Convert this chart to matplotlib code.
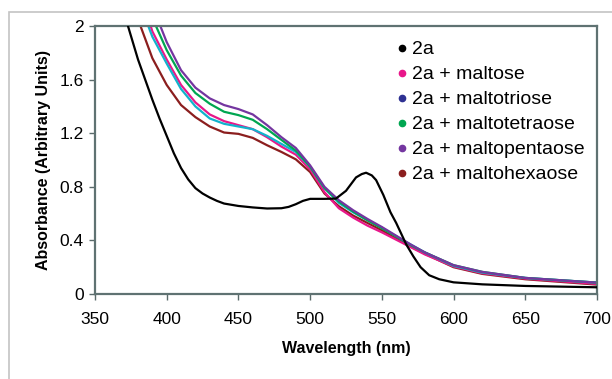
import numpy as np
from matplotlib import pyplot as plt
from matplotlib.lines import Line2D
from matplotlib.patches import Rectangle

plt.rcParams['font.family'] = ['Liberation Sans', 'DejaVu Sans']

# Espectro do composto 2a sozinho
wl_2a = [370, 373, 380, 385, 390, 395, 400, 405, 410, 415, 420, 425, 430, 435, 440, 450,
         460, 470, 480, 485, 490, 495, 500, 510, 518, 525, 532, 536, 539, 543, 546, 551,
         556, 560, 567, 572, 577, 583, 590, 600, 620, 650, 700]
abs_2a = [2.12, 2.0, 1.75, 1.60, 1.45, 1.31, 1.18, 1.05, 0.94, 0.855, 0.79, 0.75, 0.72,
          0.695, 0.675, 0.657, 0.646, 0.638, 0.64, 0.65, 0.67, 0.695, 0.71, 0.71, 0.712,
          0.77, 0.87, 0.895, 0.905, 0.885, 0.85, 0.74, 0.61, 0.53, 0.37, 0.28, 0.2, 0.14,
          0.11, 0.087, 0.072, 0.06, 0.05]

# Espectros com os açúcares (grade comum)
wl_sug = [380, 390, 400, 410, 420, 430, 440, 450, 460, 470, 480, 490, 500, 510, 520, 530,
          540, 550, 560, 570, 580, 600, 620, 650, 700]
abs_maltose = [2.3, 1.96, 1.75, 1.56, 1.43, 1.34, 1.29, 1.26, 1.23, 1.17, 1.10, 1.04, 0.93,
               0.76, 0.64, 0.57, 0.51, 0.46, 0.405, 0.35, 0.295, 0.205, 0.155, 0.115, 0.075]
abs_maltotriose = [2.2, 1.92, 1.72, 1.53, 1.40, 1.31, 1.27, 1.25, 1.23, 1.18, 1.12, 1.06, 0.95,
                   0.79, 0.68, 0.61, 0.55, 0.495, 0.43, 0.37, 0.31, 0.21, 0.16, 0.12, 0.085]
abs_maltotetraose = [2.4, 2.06, 1.82, 1.63, 1.50, 1.42, 1.36, 1.335, 1.30, 1.23, 1.15, 1.07, 0.95,
                     0.79, 0.69, 0.615, 0.55, 0.49, 0.43, 0.365, 0.31, 0.215, 0.165, 0.12, 0.085]
abs_maltopentaose = [2.5, 2.15, 1.88, 1.67, 1.54, 1.46, 1.41, 1.38, 1.34, 1.26, 1.17, 1.09, 0.96,
                     0.80, 0.70, 0.625, 0.56, 0.50, 0.435, 0.37, 0.31, 0.215, 0.165, 0.12, 0.085]
abs_maltohexaose = [2.05, 1.76, 1.56, 1.41, 1.32, 1.25, 1.205, 1.195, 1.165, 1.11, 1.06, 1.005, 0.91,
                    0.75, 0.655, 0.585, 0.53, 0.475, 0.415, 0.355, 0.30, 0.20, 0.15, 0.11, 0.07]

labels = ['2a', '2a + maltose', '2a + maltotriose', '2a + maltotetraose',
          '2a + maltopentaose', '2a + maltohexaose']
line_colors = ['black', '#e8178a', '#12b2cc', '#00a651', '#7436a0', '#8b1e1e']
dot_colors = ['black', '#e8178a', '#2e3192', '#00a651', '#7436a0', '#8b1e1e']

x_ticks = [350, 400, 450, 500, 550, 600, 650, 700]
y_ticks = [0, 0.4, 0.8, 1.2, 1.6, 2]
y_tick_labels = ['0', '0.4', '0.8', '1.2', '1.6', '2']

fig = plt.figure(figsize=(6.12, 3.79), dpi=100)
ax = fig.add_axes([0.1552, 0.2243, 0.8203, 0.7071])

# Moldura cinza clara em volta de tudo (sem borda direita/inferior visível)
fig.patches.append(Rectangle((8.5 / 612, -0.1), 1.5, 1 - 12.5 / 379 + 0.1,
                             transform=fig.transFigure, fill=False,
                             edgecolor='#c4c4c4', linewidth=1.2))

series = [(wl_2a, abs_2a), (wl_sug, abs_maltose), (wl_sug, abs_maltotriose),
          (wl_sug, abs_maltotetraose), (wl_sug, abs_maltopentaose), (wl_sug, abs_maltohexaose)]
# ordem de desenho: açúcares primeiro, 2a por cima
order = [5, 1, 2, 3, 4, 0]
for i in order:
    wl, ab = series[i]
    ax.plot(wl, ab, color=line_colors[i], linewidth=1.6, zorder=3 if i == 0 else 2)

ax.set_xlim(350, 700)
ax.set_ylim(0, 2)
ax.set_xticks(x_ticks)
ax.set_yticks(y_ticks)
ax.set_yticklabels(y_tick_labels)
ax.tick_params(axis='both', labelsize=12.5, length=4, width=1, color='#5a6a6a', pad=4)
ax.tick_params(axis='x', pad=9)

for s in ax.spines.values():
    s.set_color('#5f7272')
    s.set_linewidth(1.6)

ax.set_xlabel('Wavelength (nm)', fontsize=11.5, fontweight='bold', labelpad=10)
ax.set_ylabel('Absorbance (Arbitrary Units)', fontsize=11.5, fontweight='bold', labelpad=6)

handles = [Line2D([], [], linestyle='none', marker='o', markersize=4.5,
                  color=c) for c in dot_colors]
ax.legend(handles, labels, loc='upper left', bbox_to_anchor=(386 / 612, 1 - 31 / 379),
          bbox_transform=fig.transFigure, frameon=False, fontsize=14,
          handlelength=0.6, handletextpad=0.25, labelspacing=0.38, borderpad=0)

fig.savefig('out.png', dpi=100)
